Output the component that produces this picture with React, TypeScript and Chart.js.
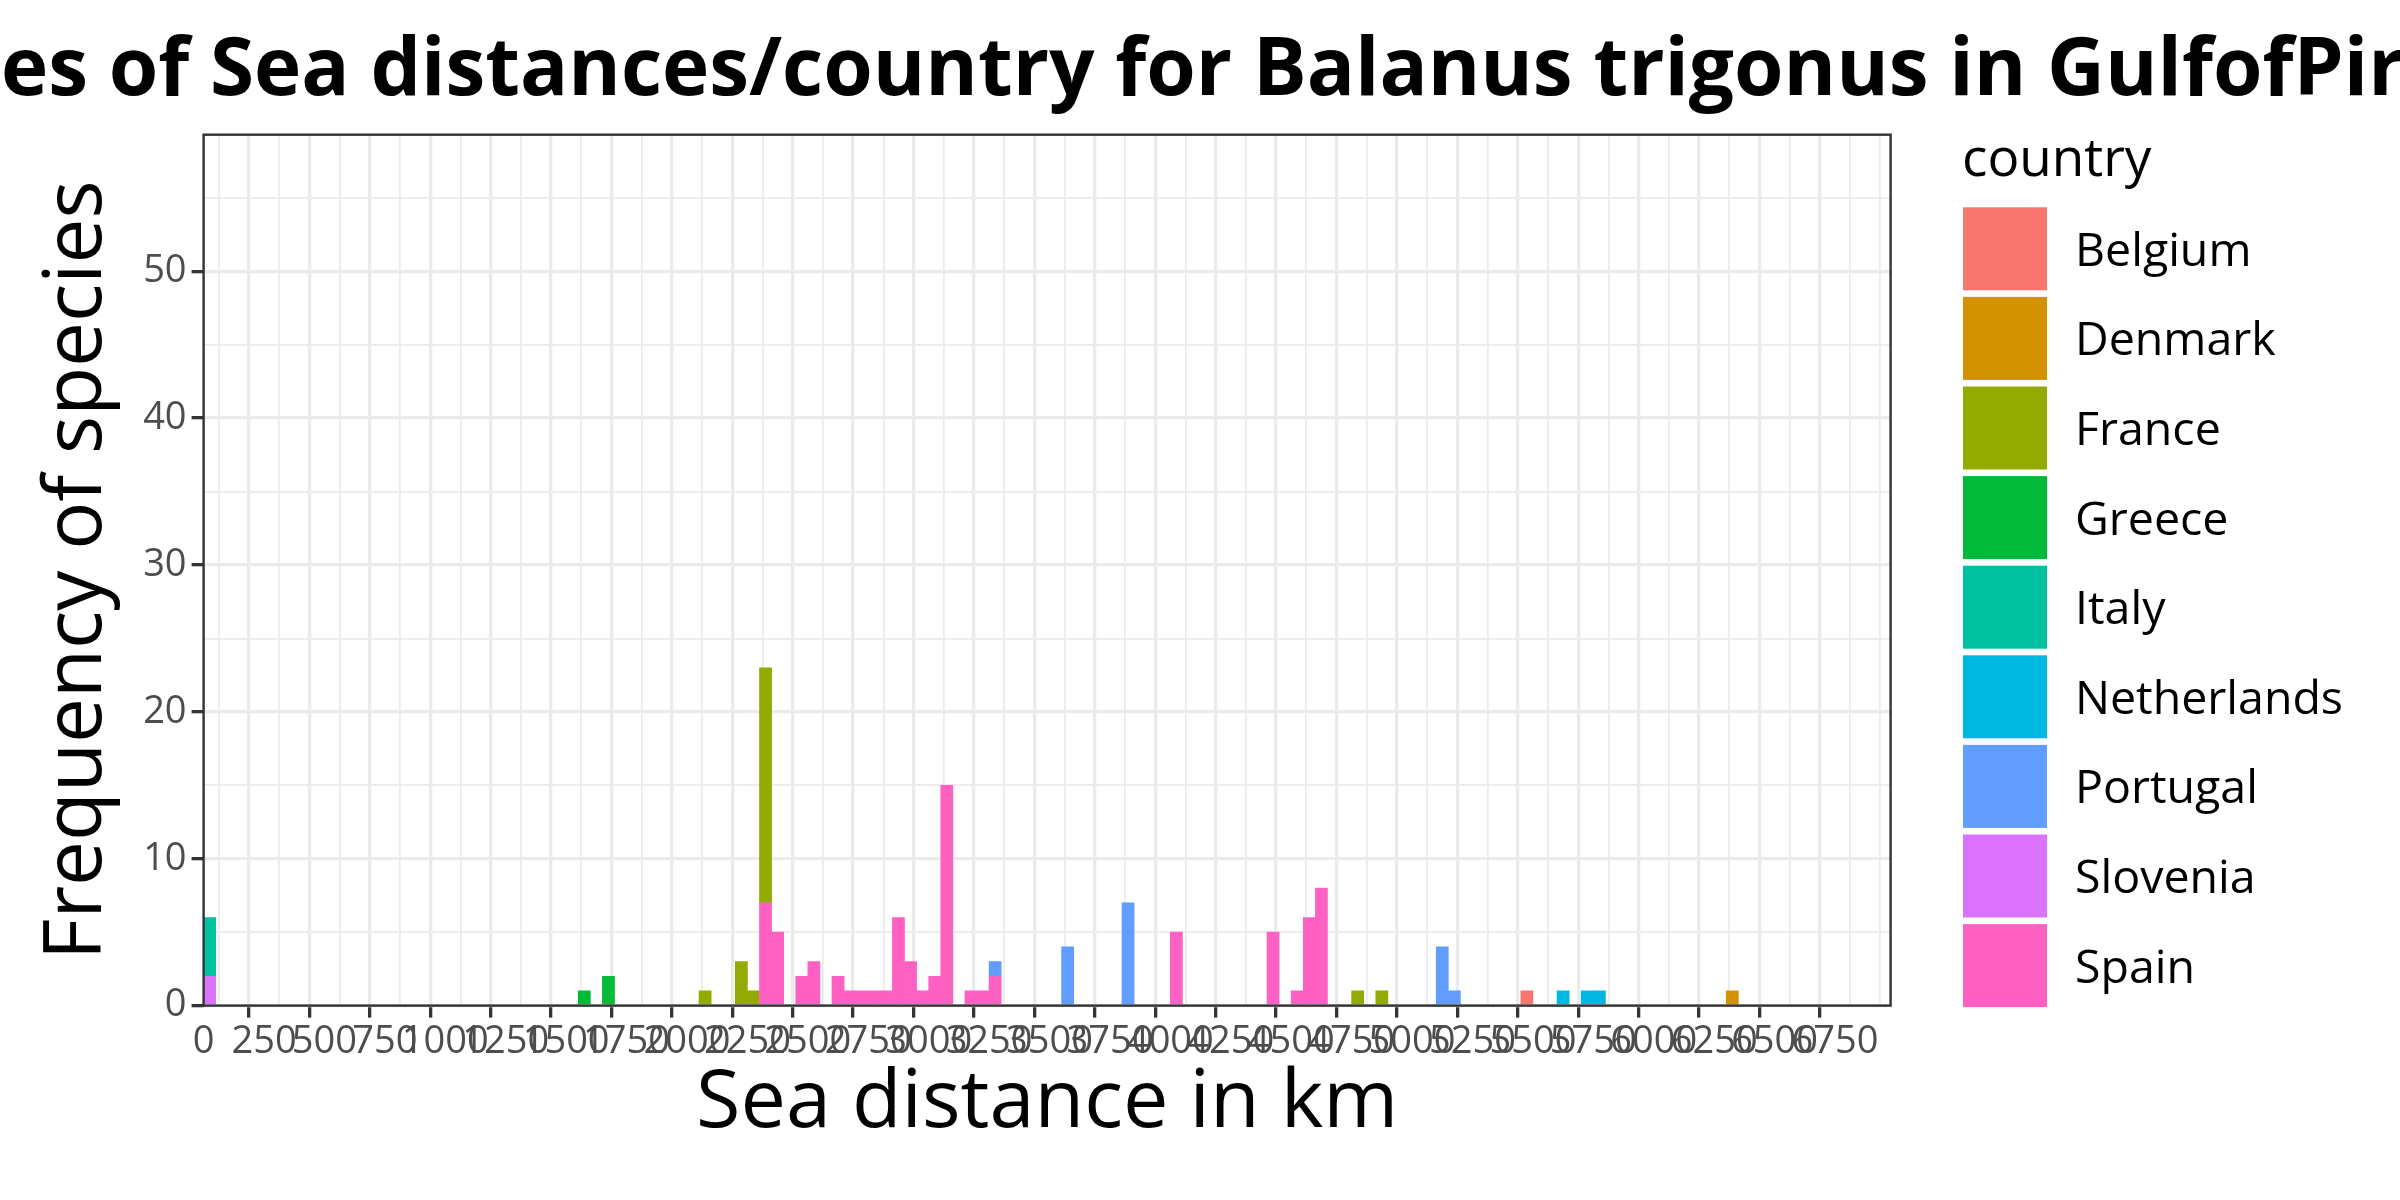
import React, { useEffect, useRef } from 'react';
import { Chart, registerables } from 'chart.js';

Chart.register(...registerables);

// ---- data (bin start in km, counts per bin) ----
const countries = ['Belgium', 'Denmark', 'France', 'Greece', 'Italy', 'Netherlands', 'Portugal', 'Slovenia', 'Spain'];
const countryColors = ['#F8766D', '#D39200', '#93AA00', '#00BA38', '#00C19F', '#00B9E3', '#619CFF', '#DB72FB', '#FF61C3'];
const binWidthKm = 50;

const belgiumBins = [5450];
const belgiumCounts = [1];
const denmarkBins = [6300];
const denmarkCounts = [1];
const franceBins = [2050, 2200, 2250, 2300, 4750, 4850];
const franceCounts = [1, 3, 1, 16, 1, 1];
const greeceBins = [1550, 1650];
const greeceCounts = [1, 2];
const italyBins = [0];
const italyCounts = [4];
const netherlandsBins = [5600, 5700, 5750];
const netherlandsCounts = [1, 1, 1];
const portugalBins = [3250, 3550, 3800, 5100, 5150];
const portugalCounts = [1, 4, 7, 4, 1];
const sloveniaBins = [0];
const sloveniaCounts = [2];
const spainBins = [2300, 2350, 2450, 2500, 2600, 2650, 2700, 2750, 2800, 2850, 2900, 2950, 3000, 3050, 3150, 3200, 3250, 4000, 4400, 4500, 4550, 4600];
const spainCounts = [7, 5, 2, 3, 2, 1, 1, 1, 1, 6, 3, 1, 2, 15, 1, 1, 2, 5, 5, 1, 6, 8];

const binsByCountry = [belgiumBins, denmarkBins, franceBins, greeceBins, italyBins, netherlandsBins, portugalBins, sloveniaBins, spainBins];
const countsByCountry = [belgiumCounts, denmarkCounts, franceCounts, greeceCounts, italyCounts, netherlandsCounts, portugalCounts, sloveniaCounts, spainCounts];

const xMajorTicks = [0, 250, 500, 750, 1000, 1250, 1500, 1750, 2000, 2250, 2500, 2750, 3000, 3250, 3500, 3750, 4000, 4250, 4500, 4750, 5000, 5250, 5500, 5750, 6000, 6250, 6500, 6750];
const yMajorTicks = [0, 10, 20, 30, 40, 50];

const titleText = 'Frequencies of Sea distances/country for Balanus trigonus in GulfofPiran';
const xTitle = 'Sea distance in km';
const yTitle = 'Frequency of species';
const legendTitle = 'country';

const FONT = "'Open Sans', 'Noto Sans', sans-serif";

const titlePlugin = {
  id: 'ggTitle',
  afterDraw(chart: any) {
    const { ctx, chartArea } = chart;
    ctx.save();
    ctx.font = `bold 80px ${FONT}`;
    ctx.fillStyle = '#000000';
    ctx.textAlign = 'center';
    ctx.textBaseline = 'alphabetic';
    ctx.fillText(titleText, (chartArea.left + chartArea.right) / 2 + 8, 95);
    ctx.restore();
  },
};

const borderPlugin = {
  id: 'ggBorder',
  afterDatasetsDraw(chart: any) {
    const { ctx, chartArea } = chart;
    ctx.save();
    ctx.strokeStyle = '#333333';
    ctx.lineWidth = 2.4;
    ctx.strokeRect(chartArea.left, chartArea.top, chartArea.right - chartArea.left, chartArea.bottom - chartArea.top);
    ctx.restore();
  },
};

const legendPlugin = {
  id: 'ggLegend',
  afterDraw(chart: any) {
    const { ctx } = chart;
    ctx.save();
    ctx.fillStyle = '#000000';
    ctx.textAlign = 'left';
    ctx.textBaseline = 'alphabetic';
    ctx.font = `53px ${FONT}`;
    ctx.fillText(legendTitle, 1962, 175.5);
    const keyLeft = 1963;
    const keyTop = 207.3;
    const pitch = 89.6;
    const keyW = 84;
    const keyH = 83;
    ctx.font = `46.5px ${FONT}`;
    countries.forEach((name, i) => {
      const top = keyTop + i * pitch;
      ctx.fillStyle = countryColors[i];
      ctx.fillRect(keyLeft, top, keyW, keyH);
      ctx.fillStyle = '#000000';
      ctx.fillText(name, 2075, top + keyH / 2 + 17);
    });
    ctx.restore();
  },
};

const tickValue = (c: any): number | null => (c && c.tick && typeof c.tick.value === 'number' ? c.tick.value : null);

export default function App() {
  const canvasRef = useRef<HTMLCanvasElement | null>(null);

  useEffect(() => {
    document.body.style.margin = '0';
    const canvas = canvasRef.current;
    if (!canvas) return;

    // stack from bottom: last factor level at the bottom (ggplot order)
    const order = countries.map((_, i) => i).reverse();
    const datasets = order.map((ci) => ({
      label: countries[ci],
      data: binsByCountry[ci].map((b, j) => ({ x: b + binWidthKm / 2, y: countsByCountry[ci][j] })),
      backgroundColor: countryColors[ci],
      borderWidth: 0,
      barPercentage: 1,
      categoryPercentage: 1,
    }));

    const isMajorX = (v: number | null) => v !== null && xMajorTicks.includes(Math.round(v));
    const isMajorY = (v: number | null) => v !== null && yMajorTicks.includes(Math.round(v));

    const chart = new Chart(canvas, {
      type: 'bar',
      data: { datasets },
      plugins: [titlePlugin, borderPlugin, legendPlugin],
      options: {
        animation: false,
        responsive: false,
        devicePixelRatio: 1,
        layout: { padding: { top: 134.7, right: 509.4, left: 0, bottom: 0 } },
        plugins: {
          legend: { display: false },
          title: { display: false },
          tooltip: { enabled: false },
        },
        scales: {
          x: {
            type: 'linear',
            stacked: true,
            min: 0,
            max: 6980,
            offset: false,
            border: { display: false },
            grid: {
              color: '#EBEBEB',
              lineWidth: (c: any) => (isMajorX(tickValue(c)) ? 3.3 : 1.7),
              tickLength: 12,
              tickWidth: 3.3,
              tickColor: (c: any) => (isMajorX(tickValue(c)) ? '#333333' : 'rgba(0,0,0,0)'),
            },
            ticks: {
              stepSize: 125,
              autoSkip: false,
              maxRotation: 0,
              minRotation: 0,
              includeBounds: false,
              color: '#4D4D4D',
              font: { family: FONT, size: 38 },
              padding: 2,
              callback: (v: any) => (isMajorX(Number(v)) ? String(Math.round(Number(v))) : ''),
            },
            title: {
              display: true,
              text: xTitle,
              color: '#000000',
              font: { family: FONT, size: 81, lineHeight: 1 },
              padding: { top: 0, bottom: 56 },
            },
            afterFit: (s: any) => {
              s.height = 194.4;
            },
          },
          y: {
            type: 'linear',
            stacked: true,
            min: 0,
            max: 59.3,
            border: { display: false },
            grid: {
              color: '#EBEBEB',
              lineWidth: (c: any) => (isMajorY(tickValue(c)) ? 3.3 : 1.7),
              tickLength: 12,
              tickWidth: 3.3,
              tickColor: (c: any) => (isMajorY(tickValue(c)) ? '#333333' : 'rgba(0,0,0,0)'),
            },
            ticks: {
              stepSize: 5,
              autoSkip: false,
              includeBounds: false,
              color: '#4D4D4D',
              font: { family: FONT, size: 38 },
              padding: 5,
              callback: (v: any) => (isMajorY(Number(v)) ? String(Math.round(Number(v))) : ''),
            },
            title: {
              display: true,
              text: yTitle,
              color: '#000000',
              font: { family: FONT, size: 80, lineHeight: 1 },
              padding: { top: 38.5, bottom: 0 },
            },
            afterFit: (s: any) => {
              s.width = 203.6;
            },
          },
        },
      } as any,
    });

    return () => {
      chart.destroy();
    };
  }, []);

  return (
    <div style={{ position: 'fixed', left: 0, top: 0, width: 2400, height: 1200, background: '#ffffff' }}>
      <canvas ref={canvasRef} width={2400} height={1200} style={{ display: 'block', width: 2400, height: 1200 }} />
    </div>
  );
}
